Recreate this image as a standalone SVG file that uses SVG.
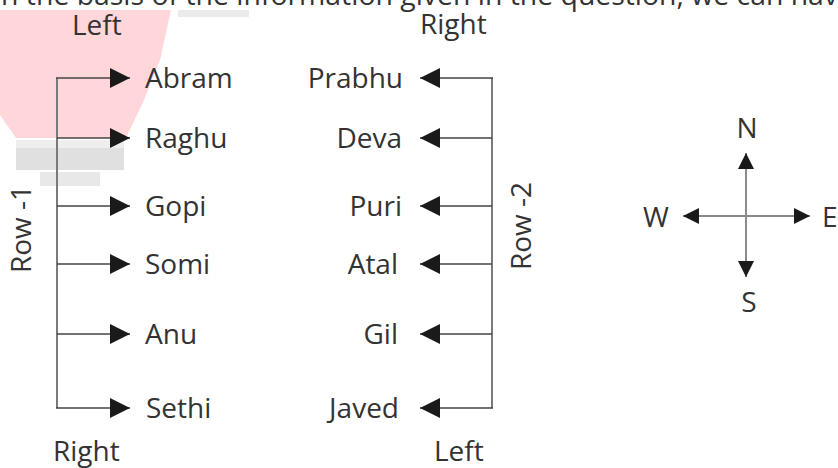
<svg xmlns="http://www.w3.org/2000/svg" width="838" height="468" viewBox="0 0 838 468">
  <style>
    .t { font-family: "Open Sans", "Noto Sans", "Liberation Sans", sans-serif; font-size: 28px; fill: #333; }
    .trunk { stroke: #7a7a7a; stroke-width: 2; fill: none; }
    .br { stroke: #444; stroke-width: 1.5; fill: none; }
    .cmp { stroke: #8a8a8a; stroke-width: 2; fill: none; }
  </style>
  <defs>
    <marker id="ah" markerUnits="userSpaceOnUse" markerWidth="20" markerHeight="20" refX="20" refY="10" orient="auto">
      <path d="M0,0 L20,10 L0,20 Z" fill="#1a1a1a"/>
    </marker>
    <marker id="ahs" markerUnits="userSpaceOnUse" markerWidth="16" markerHeight="16" refX="16" refY="8" orient="auto-start-reverse">
      <path d="M0,0 L16,8 L0,16 Z" fill="#1a1a1a"/>
    </marker>
  </defs>
  <rect width="838" height="468" fill="#fff"/>

  <!-- background logo shapes -->
  <g id="background">
    <polygon points="0,10 171,10 160,60 144,100 126,138 16,138 0,115" fill="#ffd6da"/>
    <rect x="178" y="10" width="71" height="7" fill="#ebebeb"/>
    <rect x="16" y="140" width="108" height="8" fill="#eeeeee"/>
    <rect x="16" y="148" width="108" height="22" fill="#e0e0e0"/>
    <rect x="40" y="172" width="60" height="14" fill="#e8e8e8"/>
  </g>

  <text class="t" x="-21" y="5" textLength="875" lengthAdjust="spacingAndGlyphs">On the basis of the information given in the question, we can have</text>

  <!-- connectors -->
  <g id="connectors">
    <line class="trunk" x1="57" y1="78" x2="57" y2="408"/>
    <line class="br" x1="56" y1="78" x2="130" y2="78" marker-end="url(#ah)"/>
    <line class="br" x1="57" y1="138" x2="130" y2="138" marker-end="url(#ah)"/>
    <line class="br" x1="57" y1="206" x2="130" y2="206" marker-end="url(#ah)"/>
    <line class="br" x1="57" y1="264" x2="130" y2="264" marker-end="url(#ah)"/>
    <line class="br" x1="57" y1="334" x2="130" y2="334" marker-end="url(#ah)"/>
    <line class="br" x1="56" y1="408" x2="130" y2="408" marker-end="url(#ah)"/>

    <line class="trunk" x1="492" y1="78" x2="492" y2="408"/>
    <line class="br" x1="493" y1="78" x2="420" y2="78" marker-end="url(#ah)"/>
    <line class="br" x1="492" y1="138" x2="420" y2="138" marker-end="url(#ah)"/>
    <line class="br" x1="492" y1="206" x2="420" y2="206" marker-end="url(#ah)"/>
    <line class="br" x1="492" y1="264" x2="420" y2="264" marker-end="url(#ah)"/>
    <line class="br" x1="492" y1="334" x2="420" y2="334" marker-end="url(#ah)"/>
    <line class="br" x1="493" y1="408" x2="420" y2="408" marker-end="url(#ah)"/>

    <line class="cmp" x1="746" y1="153" x2="746" y2="277" marker-start="url(#ahs)" marker-end="url(#ahs)"/>
    <line class="cmp" x1="683" y1="216" x2="810" y2="216" marker-start="url(#ahs)" marker-end="url(#ahs)"/>
  </g>

  <!-- Row 1 -->
  <g id="row1-left-label"><text class="t" x="72" y="35">Left</text></g>
  <g id="row1-right-label"><text class="t" x="53" y="461">Right</text></g>
  <g id="row1-label"><text class="t" transform="translate(31,229) rotate(-90)" text-anchor="middle">Row -1</text></g>
  <g id="abram"><text class="t" x="145" y="88">Abram</text></g>
  <g id="raghu"><text class="t" x="145" y="148">Raghu</text></g>
  <g id="gopi"><text class="t" x="145" y="216">Gopi</text></g>
  <g id="somi"><text class="t" x="145" y="274">Somi</text></g>
  <g id="anu"><text class="t" x="145" y="344">Anu</text></g>
  <g id="sethi"><text class="t" x="146" y="418">Sethi</text></g>

  <!-- Row 2 -->
  <g id="row2-right-label"><text class="t" x="420" y="34">Right</text></g>
  <g id="row2-left-label"><text class="t" x="434" y="461">Left</text></g>
  <g id="row2-label"><text class="t" transform="translate(531,226) rotate(-90)" text-anchor="middle">Row -2</text></g>
  <g id="prabhu"><text class="t" x="403" y="88" text-anchor="end">Prabhu</text></g>
  <g id="deva"><text class="t" x="402" y="148" text-anchor="end">Deva</text></g>
  <g id="puri"><text class="t" x="402" y="216" text-anchor="end">Puri</text></g>
  <g id="atal"><text class="t" x="398" y="274" text-anchor="end">Atal</text></g>
  <g id="gil"><text class="t" x="398" y="344" text-anchor="end">Gil</text></g>
  <g id="javed"><text class="t" x="399" y="418" text-anchor="end">Javed</text></g>

  <!-- Compass -->
  <g id="compass-n"><text class="t" x="747" y="138" text-anchor="middle">N</text></g>
  <g id="compass-s"><text class="t" x="749" y="312" text-anchor="middle">S</text></g>
  <g id="compass-w"><text class="t" x="643" y="227">W</text></g>
  <g id="compass-e"><text class="t" x="822" y="227">E</text></g>
</svg>
